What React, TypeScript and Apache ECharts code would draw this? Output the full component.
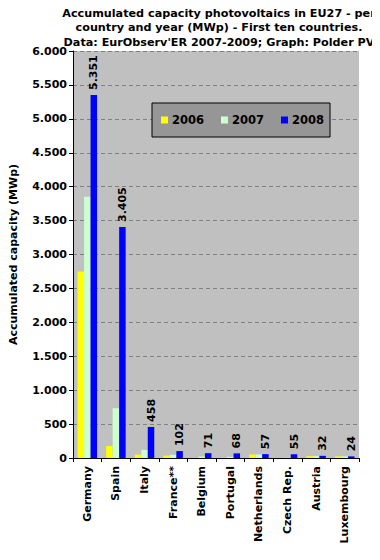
import React, { useEffect, useRef } from "react";
import * as echarts from "echarts";

const countries = ["Germany", "Spain", "Italy", "France**", "Belgium", "Portugal", "Netherlands", "Czech Rep.", "Austria", "Luxembourg"];
const y2006 = [2750, 175, 50, 34, 2, 3, 53, 1, 26, 24];
const y2007 = [3850, 733, 120, 47, 21, 17, 53, 4, 28, 24];
const y2008 = [5351, 3405, 458, 102, 71, 68, 57, 55, 32, 24];
const yTicks = { min: 0, max: 6000, interval: 500 };

const FONT = "DejaVu Sans";
const fmt = (v: number) => {
  const s = String(Math.round(v));
  return s.replace(/\B(?=(\d{3})+(?!\d))/g, ".");
};

export default function App() {
  const ref = useRef<HTMLDivElement>(null);
  useEffect(() => {
    const chart = echarts.init(ref.current!, null, { renderer: "svg" });
    const barBase = { type: "bar" as const, barWidth: 6.5, barGap: "0%" };
    chart.setOption({
      animation: false,
      backgroundColor: "#ffffff",
      title: {
        text: "Accumulated capacity photovoltaics in EU27 - per\ncountry and year (MWp) - First ten countries.\nData: EurObserv'ER 2007-2009; Graph: Polder PV",
        left: 214,
        top: 1,
        textAlign: "center",
        textStyle: { fontFamily: FONT, fontWeight: "bold", fontSize: 11.2, color: "#000", lineHeight: 14.5 },
      },
      legend: {
        data: ["2006", "2007", "2008"],
        left: 152,
        top: 103,
        itemWidth: 7,
        itemHeight: 7,
        itemGap: 17,
        padding: [11, 6, 11, 9],
        backgroundColor: "#969696",
        borderColor: "#000",
        borderWidth: 1,
        borderRadius: 0,
        icon: "rect",
        textStyle: { fontFamily: FONT, fontWeight: "bold", fontSize: 11.5, color: "#000", padding: [0, 0, 0, -1] },
      },
      grid: { left: 72, right: 21, top: 51, bottom: 102, backgroundColor: "#c0c0c0", show: true, borderWidth: 0 },
      xAxis: {
        type: "category",
        data: countries,
        axisLine: { lineStyle: { color: "#000" } },
        axisTick: { show: true, alignWithLabel: false, length: 4, lineStyle: { color: "#000" } },
        axisLabel: { rotate: 90, interval: 0, fontFamily: FONT, fontWeight: "bold", fontSize: 11, color: "#000", margin: 8 },
      },
      yAxis: {
        type: "value",
        ...yTicks,
        name: "Accumulated capacity (MWp)",
        nameLocation: "middle",
        nameGap: 54,
        nameTextStyle: { fontFamily: FONT, fontWeight: "bold", fontSize: 11, color: "#000" },
        axisLine: { show: true, lineStyle: { color: "#000" } },
        axisTick: { show: true, length: 4, lineStyle: { color: "#000" } },
        axisLabel: { formatter: fmt, fontFamily: FONT, fontWeight: "bold", fontSize: 11, color: "#000", margin: 6 },
        splitLine: { show: true, lineStyle: { color: "#808080", type: [4, 3] } },
      },
      series: [
        { ...barBase, name: "2006", data: y2006, itemStyle: { color: "#ffff00" } },
        { ...barBase, name: "2007", data: y2007, itemStyle: { color: "#ccffcc" } },
        {
          ...barBase,
          name: "2008",
          data: y2008,
          itemStyle: { color: "#0000ff" },
          label: {
            show: true,
            position: "top",
            rotate: 90,
            align: "left",
            verticalAlign: "middle",
            distance: 5,
            formatter: (p: any) => fmt(p.value),
            fontFamily: FONT,
            fontWeight: "bold",
            fontSize: 11,
            color: "#000",
          },
        },
      ],
    });
    return () => chart.dispose();
  }, []);
  return <div ref={ref} style={{ width: 380, height: 560, margin: -8 }} />;
}
